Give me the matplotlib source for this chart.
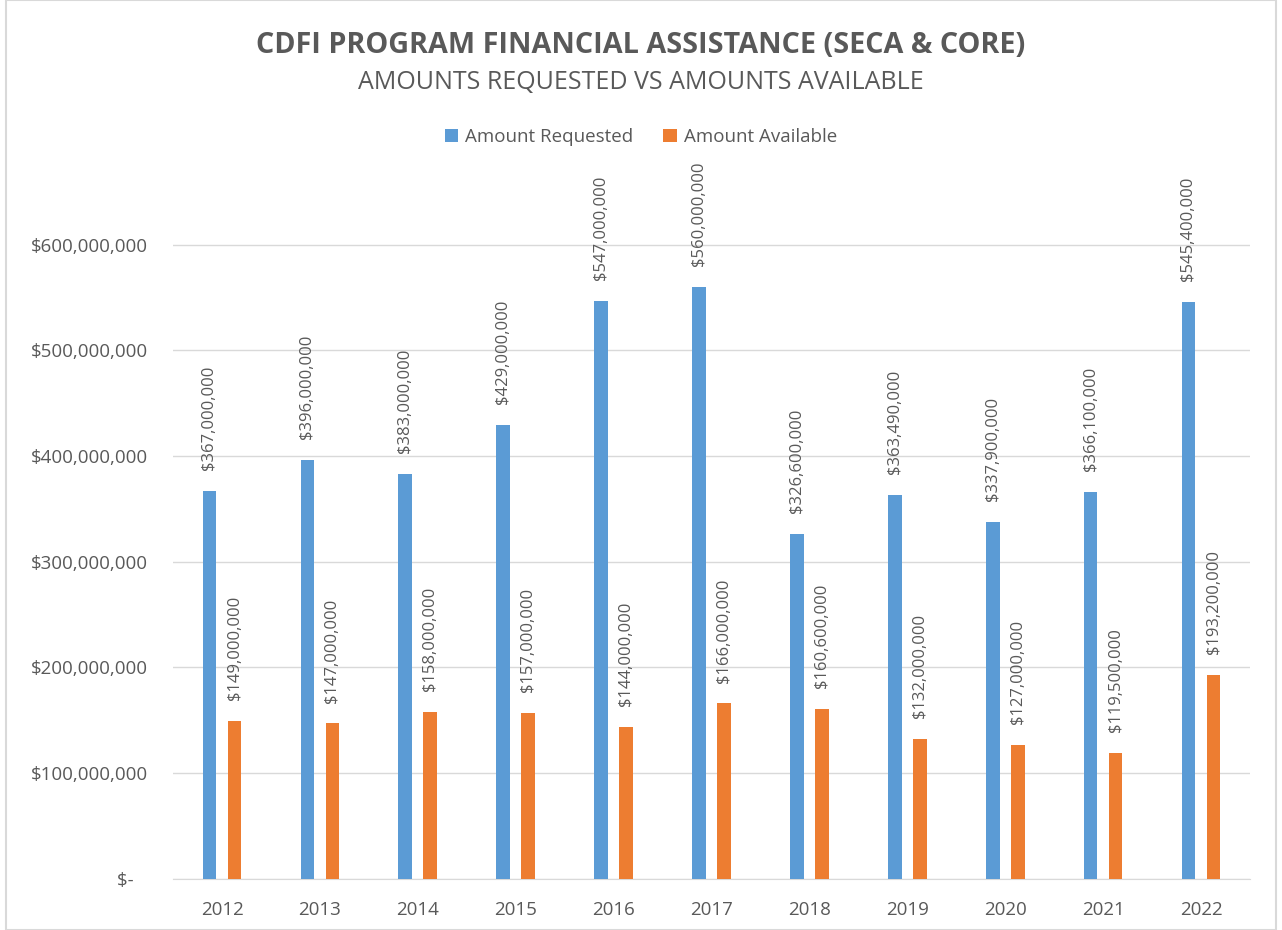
import matplotlib
matplotlib.use('Agg')
import matplotlib.pyplot as plt
from matplotlib.patches import Rectangle
from matplotlib.ticker import FuncFormatter
import numpy as np

plt.rcParams['font.family'] = ['Open Sans', 'DejaVu Sans']

years = ['2012', '2013', '2014', '2015', '2016', '2017', '2018', '2019', '2020', '2021', '2022']
requested = [367000000, 396000000, 383000000, 429000000, 547000000, 560000000,
             326600000, 363490000, 337900000, 366100000, 545400000]
available = [149000000, 147000000, 158000000, 157000000, 144000000, 166000000,
             160600000, 132000000, 127000000, 119500000, 193200000]

blue = '#5B9BD5'
orange = '#ED7D31'
text_gray = '#595959'
grid_gray = '#D9D9D9'

fig = plt.figure(figsize=(12.82, 9.30), dpi=100)
ax = fig.add_axes([0.135, 0.055, 0.84, 0.773])

x = np.arange(len(years))
w = 0.14
off = 0.128
b1 = ax.bar(x - off, requested, w, color=blue, label='Amount Requested', zorder=3)
b2 = ax.bar(x + off, available, w, color=orange, label='Amount Available', zorder=3)

# rotated value labels above every bar
for bars in (b1, b2):
    for rect in bars:
        v = rect.get_height()
        ax.annotate(f'${v:,.0f}', (rect.get_x() + rect.get_width() / 2, v),
                    xytext=(0, 15), textcoords='offset points', rotation=90,
                    ha='center', va='bottom', fontsize=12, color=text_gray)

ax.set_xlim(-0.5, len(years) - 0.5)
ax.set_ylim(0, 680000000)
ax.set_yticks(np.arange(0, 600000001, 100000000))
ax.yaxis.set_major_formatter(FuncFormatter(lambda v, p: '$-   ' if v == 0 else f'${v:,.0f}'))
ax.set_xticks(x)
ax.set_xticklabels(years)
ax.tick_params(axis='both', length=0, labelsize=13.5, colors=text_gray)
ax.tick_params(axis='y', pad=18)
ax.tick_params(axis='x', pad=16)
ax.grid(axis='y', color=grid_gray, linewidth=1, zorder=0)
for s in ['top', 'right', 'left']:
    ax.spines[s].set_visible(False)
ax.spines['bottom'].set_color(grid_gray)

fig.text(0.5, 0.951, 'CDFI PROGRAM FINANCIAL ASSISTANCE (SECA & CORE)', ha='center', va='center',
         fontsize=20.7, fontweight='bold', color=text_gray)
fig.text(0.5, 0.911, 'AMOUNTS REQUESTED VS AMOUNTS AVAILABLE', ha='center', va='center',
         fontsize=18, color=text_gray)

leg = fig.legend(handles=[b1, b2], loc='center', bbox_to_anchor=(0.5, 0.853), ncol=2,
                 frameon=False, fontsize=13.5, handlelength=0.7, handleheight=0.7,
                 columnspacing=1.6, handletextpad=0.4)
for t in leg.get_texts():
    t.set_color(text_gray)

fig.patches.append(Rectangle((0.005, 0.0), 0.99, 1.0, transform=fig.transFigure,
                             fill=False, edgecolor=grid_gray, linewidth=1.5))

fig.savefig('out.png', dpi=100)
